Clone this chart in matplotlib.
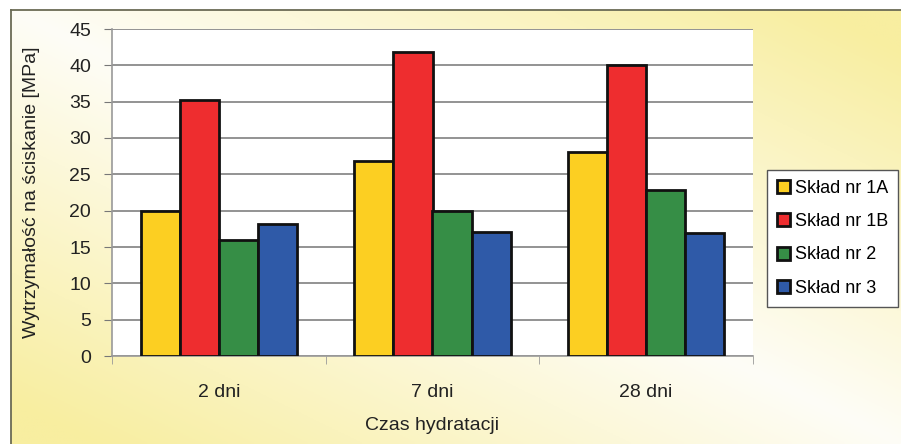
import numpy as np
import matplotlib.pyplot as plt

plt.rcParams['font.family'] = ['Liberation Sans', 'DejaVu Sans']

# dane
kategorie = ['2 dni', '7 dni', '28 dni']
sklad_1a = [20.0, 26.9, 28.1]
sklad_1b = [35.2, 41.8, 40.0]
sklad_2 = [15.9, 20.0, 22.9]
sklad_3 = [18.1, 17.1, 16.9]
etykiety = ['Skład nr 1A', 'Skład nr 1B', 'Skład nr 2', 'Skład nr 3']
kolory = ['#fccf22', '#ee2d2f', '#368e46', '#2f5aa8']

W, H = 901, 444
fig = plt.figure(figsize=(W / 100, H / 100), dpi=100)
fig.patch.set_facecolor('white')

# tlo z gradientem (bialy -> zolty po przekatnej)
bg = fig.add_axes([11 / W, 0, 1 - 11 / W, 1 - 10 / H])
u = np.linspace(0, 1, 300)
v = np.linspace(0, 1, 150)
uu, vv = np.meshgrid(u, v)
t = np.clip(np.abs(uu - vv) * 1.1, 0, 1)[..., None]
bialy = np.array([254, 253, 247]) / 255
zolty = np.array([248, 238, 160]) / 255
bg.imshow(bialy * (1 - t) + zolty * t, aspect='auto', extent=[0, 1, 1, 0])
bg.set_xlim(0, 1)
bg.set_ylim(1, 0)
bg.axis('off')
fig.add_artist(plt.Line2D([11 / W, 1], [1 - 10 / H, 1 - 10 / H], color='#6b6b55', lw=1.3))
fig.add_artist(plt.Line2D([11 / W, 11 / W], [0, 1 - 10 / H], color='#6b6b55', lw=1.3))

ax = fig.add_axes([112 / W, 1 - 356 / H, (753 - 112) / W, (356 - 29) / H])
ax.set_facecolor('white')

serie = [sklad_1a, sklad_1b, sklad_2, sklad_3]
x = np.arange(len(kategorie))
szer = 0.183
for i, (wart, kol, et) in enumerate(zip(serie, kolory, etykiety)):
    ax.bar(x + (i - 1.5) * szer, wart, szer, color=kol, edgecolor='#111111',
           linewidth=2.0, label=et, zorder=3)

ax.set_xlim(-0.5, 2.5)
ax.set_ylim(0, 45)
ax.set_yticks(range(0, 46, 5))
ax.set_xticks([-0.5, 0.5, 1.5, 2.5], minor=True)
ax.set_xticks(x)
ax.set_xticklabels(kategorie)
ax.tick_params(axis='x', which='major', length=0, pad=20, labelsize=14, colors='#222222')
ax.tick_params(axis='x', which='minor', length=6, color='#999999', direction='out')
ax.tick_params(axis='y', length=6, color='#777777', labelsize=14, pad=9, colors='#222222')
ax.yaxis.grid(True, color='#808080', linewidth=1.2, zorder=0)
for s in ['top', 'right']:
    ax.spines[s].set_visible(False)
ax.spines['left'].set_color('#999999')
ax.spines['bottom'].set_color('#999999')
ax.spines['left'].set_linewidth(1.2)
ax.spines['bottom'].set_linewidth(1.2)

ax.set_ylabel('Wytrzymałość na ściskanie [MPa]', fontsize=14, color='#222222')
ax.yaxis.set_label_coords(-(112 - 40) / (753 - 112), 0.5)
ax.set_xlabel('Czas hydratacji', fontsize=14, color='#222222')
ax.xaxis.set_label_coords(0.5, -(425 - 356) / (356 - 29))
ax.xaxis.label.set_va('center')

leg = fig.legend(loc='upper left', bbox_to_anchor=(767 / W, 1 - 170 / H), fontsize=13,
                 frameon=True, fancybox=False, edgecolor='#555555', framealpha=1,
                 handlelength=0.75, handleheight=0.75, handletextpad=0.25,
                 labelspacing=0.9, borderpad=0.55, borderaxespad=0)
leg.get_frame().set_linewidth(1.0)

fig.savefig('out.png', dpi=100)
